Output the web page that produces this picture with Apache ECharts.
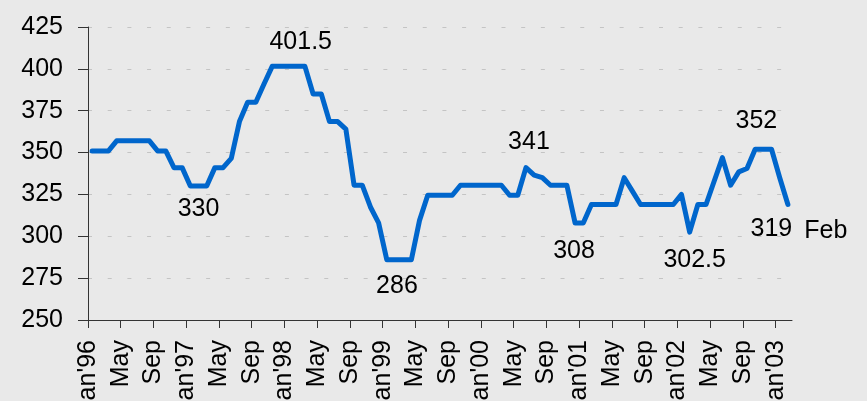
<!DOCTYPE html>
<html>
<head>
<meta charset="utf-8">
<script src="https://cdn.jsdelivr.net/npm/echarts@6/dist/echarts.min.js"></script>
<style>
  html, body { margin: 0; padding: 0; background: #e9e9e9; }
  #chart { width: 867px; height: 401px; }
</style>
</head>
<body>
<div id="chart"></div>
<script>
// monthly values, Jan'96 .. Feb'03
const prices = [
  351, 351, 351, 357, 357, 357, 357, 357, 351, 351, 341, 341,        // 1996
  330, 330, 330, 341, 341, 346.5, 368.5, 380, 380, 391, 401.5, 401.5, // 1997
  401.5, 401.5, 401.5, 385, 385, 368.5, 368.5, 364, 330.5, 330.5, 317.5, 308, // 1998
  286, 286, 286, 286, 309.5, 324.5, 324.5, 324.5, 324.5, 330.5, 330.5, 330.5, // 1999
  330.5, 330.5, 330.5, 324.5, 324.5, 341, 336.5, 335, 330.5, 330.5, 330.5, 308, // 2000
  308, 319, 319, 319, 319, 335, 327, 319, 319, 319, 319, 319,        // 2001
  325, 302.5, 319, 319, 333, 347, 330.5, 338.5, 340.5, 352, 352, 352, // 2002
  335, 319                                                           // 2003
]
const tickLabels = [
  "Jan'96", 'May', 'Sep', "Jan'97", 'May', 'Sep', "Jan'98", 'May', 'Sep',
  "Jan'99", 'May', 'Sep', "Jan'00", 'May', 'Sep', "Jan'01", 'May', 'Sep',
  "Jan'02", 'May', 'Sep', "Jan'03"
]
const monthsPerTick = 4
const monthCount = 86
// annotated points: month index -> label placement
const notes = [
  { idx: 13, pos: 'bottom', offset: [0, 5] },
  { idx: 25, pos: 'top', offset: [4, -6] },
  { idx: 37, pos: 'bottom', offset: [2, 8] },
  { idx: 53, pos: 'top', offset: [3, -8] },
  { idx: 59, pos: 'bottom', offset: [-1, 10] },
  { idx: 73, pos: 'bottom', offset: [5, 10] },
  { idx: 82, pos: 'top', offset: [-7, -10] },
  { idx: 85, pos: 'bottom', offset: [11, 5], suffix: 'Feb' }
]

const font = "'Liberation Sans', Arial, sans-serif"
const fs = 25
const tickValues = tickLabels.map((_, i) => i * monthsPerTick)

const seriesData = prices.map((v, i) => [i + 0.5, v])
notes.forEach(n => {
  const v = prices[n.idx]
  seriesData[n.idx] = {
    value: [n.idx + 0.5, v],
    label: {
      show: true,
      position: n.pos,
      offset: n.offset,
      formatter: n.suffix ? '{v|' + v + '}{s|' + n.suffix + '}' : String(v),
      rich: n.suffix ? {
        v: { fontFamily: font, fontSize: fs, color: '#000' },
        s: { fontFamily: font, fontSize: fs, color: '#000', padding: [4, 0, 0, 12] }
      } : undefined
    }
  }
})

const chart = echarts.init(document.getElementById('chart'))
chart.setOption({
  backgroundColor: '#e9e9e9',
  animation: false,
  grid: { left: 88, right: 75, top: 27, bottom: 81, containLabel: false, outerBoundsMode: 'none' },
  xAxis: {
    type: 'value',
    min: 0,
    max: monthCount,
    interval: monthsPerTick,
    splitLine: { show: false },
    axisLine: { show: true, lineStyle: { color: '#333', width: 1 } },
    axisTick: { show: true, length: 8, customValues: tickValues, lineStyle: { color: '#333' } },
    axisLabel: {
      customValues: tickValues,
      rotate: 90,
      margin: 20,
      color: '#000',
      fontFamily: font,
      fontSize: fs,
      formatter: v => tickLabels[Math.round(v / monthsPerTick)] || ''
    }
  },
  yAxis: {
    type: 'value',
    min: 250,
    max: 425,
    interval: 25,
    axisLine: { show: true, lineStyle: { color: '#333', width: 1 } },
    axisTick: { show: true, length: 10, lineStyle: { color: '#333' } },
    axisLabel: {
      margin: 25,
      color: '#000',
      fontFamily: font,
      fontSize: fs,
      padding: [0, 0, 7, 0]
    },
    splitLine: {
      show: true,
      lineStyle: { color: '#c4c4c4', width: 1, type: [4, 15.69] }
    }
  },
  series: [{
    type: 'line',
    data: seriesData,
    symbol: 'circle',
    symbolSize: 1,
    showAllSymbol: true,
    itemStyle: { color: '#0066cc' },
    lineStyle: { color: '#0066cc', width: 5, cap: 'round', join: 'round' },
    label: { color: '#000', fontFamily: font, fontSize: fs, distance: 5 },
    z: 3
  }]
})
</script>
</body>
</html>
